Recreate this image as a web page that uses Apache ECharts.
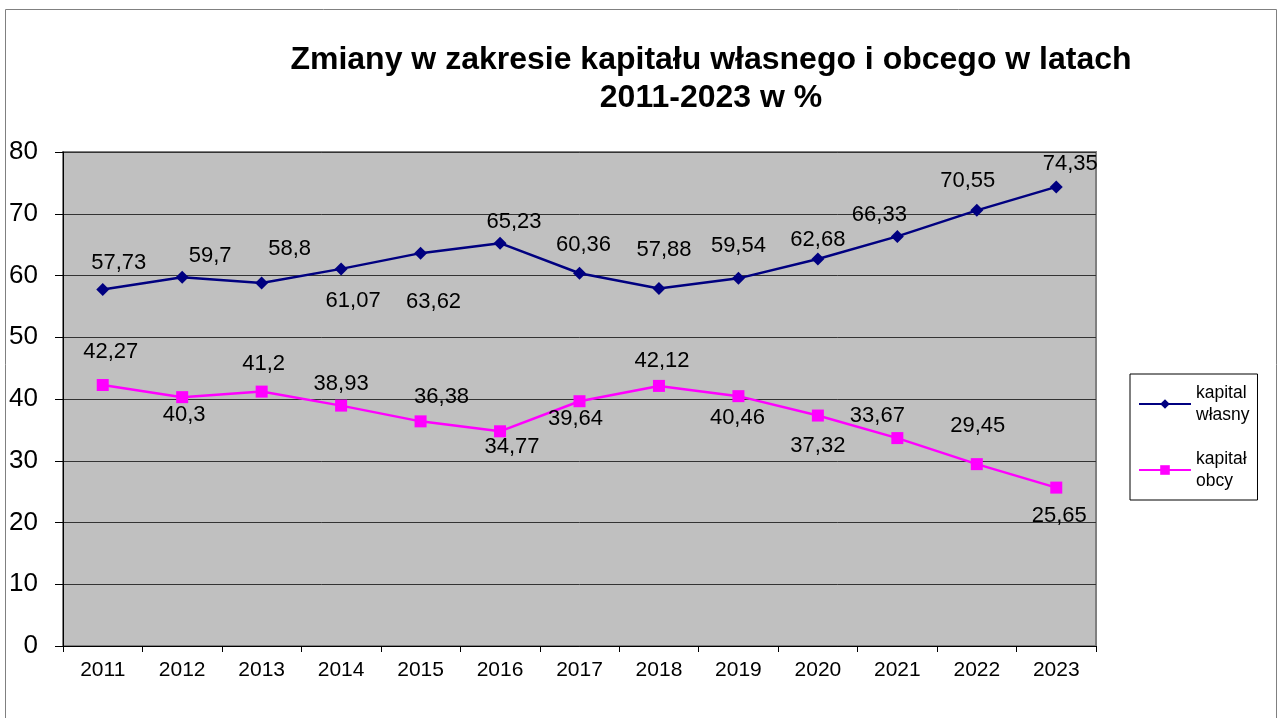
<!DOCTYPE html>
<html>
<head>
<meta charset="utf-8">
<script src="https://cdn.jsdelivr.net/npm/echarts@6/dist/echarts.min.js"></script>
<style>
  html, body { margin: 0; padding: 0; background: #fff; }
  #chart { width: 1280px; height: 718px; }
</style>
</head>
<body>
<div id="chart"></div>
<script>
// lata
var years = ['2011', '2012', '2013', '2014', '2015', '2016', '2017', '2018', '2019', '2020', '2021', '2022', '2023'];
// kapitał własny / obcy w %
var wlasny = [57.73, 59.7, 58.8, 61.07, 63.62, 65.23, 60.36, 57.88, 59.54, 62.68, 66.33, 70.55, 74.35];
var obcy = [42.27, 40.3, 41.2, 38.93, 36.38, 34.77, 39.64, 42.12, 40.46, 37.32, 33.67, 29.45, 25.65];
var yTicks = [0, 10, 20, 30, 40, 50, 60, 70, 80];

// przesunięcia etykiet (jak w Excelu)
var wlasnyOff = [[16, -27], [28, -21], [28, -34], [12, 32], [13, 49], [14, -21], [4, -28], [5, -39], [0, -32], [0, -19], [-18, -21], [-9, -29], [14, -23]];
var obcyOff = [[8, -33], [2, 18], [2, -28], [0, -22], [21, -24], [12, 16], [-4, 18], [3, -25], [-1, 22], [0, 30], [-20, -22], [1, -38], [3, 28]];

function fmt(v) {
    return String(v).replace('.', ',');
}

function buildData(values, offs) {
    return values.map(function (v, i) {
        return {
            value: v,
            label: {show: true, position: 'inside', offset: offs[i], formatter: fmt(v)}
        };
    });
}

var chart = echarts.init(document.getElementById('chart'));
chart.setOption({
    animation: false,
    textStyle: {fontFamily: 'Liberation Sans, Arial, sans-serif'},
    title: {
        text: 'Zmiany w zakresie kapitału własnego i obcego w latach\n2011-2023 w %',
        left: 706,
        top: 36,
        textAlign: 'center',
        textStyle: {fontSize: 32, fontWeight: 'bold', color: '#000', lineHeight: 38, fontFamily: 'Liberation Sans, Arial, sans-serif'}
    },
    graphic: [{
        type: 'rect',
        shape: {x: 5.5, y: 9.5, width: 1271, height: 720},
        style: {fill: 'none', stroke: '#808080', lineWidth: 1},
        silent: true
    }],
    legend: {
        orient: 'vertical',
        left: 1130,
        top: 374,
        width: 126,
        padding: [8, 8, 8, 8],
        itemGap: 22,
        itemWidth: 52,
        itemHeight: 12,
        borderColor: '#000',
        borderWidth: 1,
        backgroundColor: '#fff',
        textStyle: {fontSize: 17.5, color: '#000', lineHeight: 22},
        data: [
            {name: 'kapital\nwłasny'},
            {name: 'kapitał\nobcy'}
        ]
    },
    grid: {
        left: 63,
        right: 184,
        top: 152,
        bottom: 72,
        show: true,
        backgroundColor: '#C0C0C0',
        borderColor: '#808080',
        borderWidth: 2
    },
    xAxis: {
        type: 'category',
        data: years,
        boundaryGap: true,
        axisLine: {lineStyle: {color: '#000', width: 1}},
        axisTick: {show: true, length: 6, lineStyle: {color: '#000'}},
        axisLabel: {fontSize: 21, color: '#000', margin: 14}
    },
    yAxis: {
        type: 'value',
        min: yTicks[0],
        max: yTicks[yTicks.length - 1],
        interval: 10,
        axisLine: {show: true, lineStyle: {color: '#000', width: 1}},
        axisTick: {show: true, length: 8, lineStyle: {color: '#000'}},
        axisLabel: {fontSize: 26, color: '#000', margin: 25},
        splitLine: {lineStyle: {color: '#333', width: 1}}
    },
    series: [
        {
            name: 'kapital\nwłasny',
            type: 'line',
            data: buildData(wlasny, wlasnyOff),
            symbol: 'diamond',
            symbolSize: 13,
            color: '#000080',
            lineStyle: {width: 2.5, color: '#000080'},
            itemStyle: {color: '#000080'},
            label: {fontSize: 22, color: '#000'}
        },
        {
            name: 'kapitał\nobcy',
            type: 'line',
            data: buildData(obcy, obcyOff),
            symbol: 'rect',
            symbolSize: 12,
            color: '#FF00FF',
            lineStyle: {width: 2.5, color: '#FF00FF'},
            itemStyle: {color: '#FF00FF'},
            label: {fontSize: 22, color: '#000'}
        }
    ]
});
</script>
</body>
</html>
